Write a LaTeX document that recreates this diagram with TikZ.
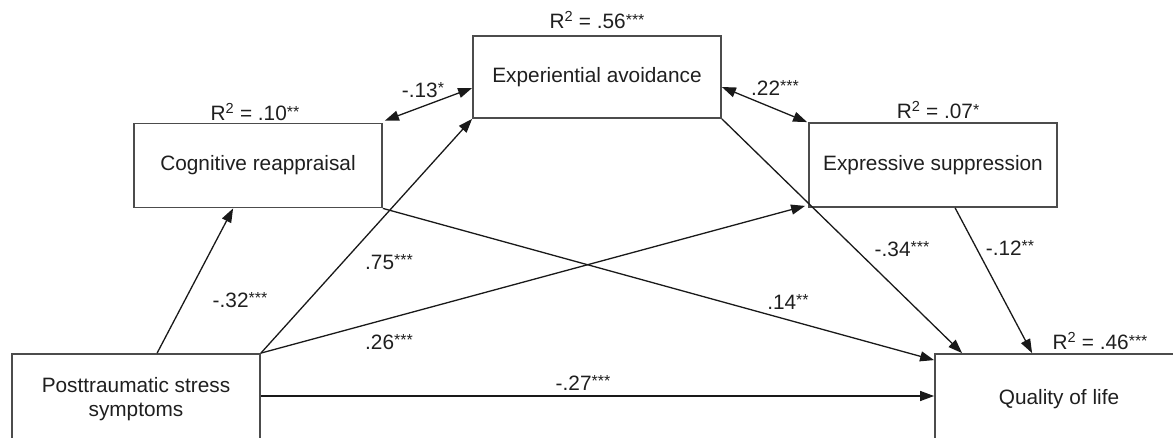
\documentclass[tikz,border=0pt]{standalone}
\usepackage{fontspec}
\setmainfont{Liberation Sans}
\usetikzlibrary{arrows.meta,calc}
\newcommand\sigstars[1]{\raisebox{3.5pt}{\fontsize{16}{16}\selectfont #1}}
\newcommand\rsq{R\textsuperscript{2}}
\begin{document}
\begin{tikzpicture}[x=1pt,y=-1pt,
  every node/.style={font=\fontsize{20.8}{24}\selectfont, text=black!88},
  varbox/.style={draw=black!70, line width=1.8pt, minimum width=248pt, minimum height=84pt, align=center, inner sep=0pt},
  path/.style={draw=black!90, line width=1.3pt, -{Triangle[length=14pt,width=10pt]}},
  corr/.style={draw=black!90, line width=1.3pt, {Triangle[length=14pt,width=10pt]}-{Triangle[length=14pt,width=10pt]}},
  coef/.style={inner sep=0pt}
]
\useasboundingbox (0,0) rectangle (1173,437);
\clip (0,0) rectangle (1173,437);
% boxes
\node[varbox, minimum height=90pt] (ptss) at (136,399) {\raisebox{2pt}{\parbox{240pt}{\centering Posttraumatic stress\\[0pt]symptoms}}};
\node[varbox, minimum height=90pt] (qol) at (1059,399) {\raisebox{1pt}{Quality of life}};
\node[varbox] (cog) at (258,165.5) {Cognitive reappraisal};
\node[varbox, minimum height=82pt] (expav) at (597,77) {Experiential avoidance};
\node[varbox] (expsup) at (933,165) {Expressive suppression};
% R squared
\node[coef] (r1) at (597,20) {\rsq{} = .56\sigstars{***}};
\node[coef] (r2) at (255,112) {\rsq{} = .10\sigstars{**}};
\node[coef] (r3) at (938,110) {\rsq{} = .07\sigstars{*}};
\node[coef] (r4) at (1100,341) {\rsq{} = .46\sigstars{***}};
% connectors
\draw[path] ([xshift=146pt]ptss.north west) -- ([xshift=100pt]cog.south west);
\draw[path] (ptss.north east) -- (expav.south west);
\draw[path] (ptss.north east) -- ([xshift=-3pt,yshift=2pt]expsup.south west);
\draw[path] ([yshift=3pt]ptss.east) -- ([yshift=3pt]qol.west);
\draw[path] (cog.south east) -- ([yshift=-7pt]qol.north west);
\draw[path] (expav.south east) -- ([xshift=28pt]qol.north west);
\draw[path] ([xshift=147pt]expsup.south west) -- ([xshift=98pt]qol.north west);
\draw[corr] ([xshift=2pt,yshift=2pt]cog.north east) -- ([yshift=-11pt]expav.west);
\draw[corr] ([yshift=-10pt]expav.east) -- ([xshift=-1pt]expsup.north west);
% coefficients
\node[coef] (c13) at (423,90) {-.13\sigstars{*}};
\node[coef] (c22) at (775,88) {.22\sigstars{***}};
\node[coef] (c32) at (240,300) {-.32\sigstars{***}};
\node[coef] (c75) at (389,262) {.75\sigstars{***}};
\node[coef] (c26) at (389,342) {.26\sigstars{***}};
\node[coef] (c14) at (788,302) {.14\sigstars{**}};
\node[coef] (c34) at (902,249) {-.34\sigstars{***}};
\node[coef] (c12) at (1010,248) {-.12\sigstars{**}};
\node[coef] (c27) at (583,383) {-.27\sigstars{***}};
\end{tikzpicture}
\end{document}
